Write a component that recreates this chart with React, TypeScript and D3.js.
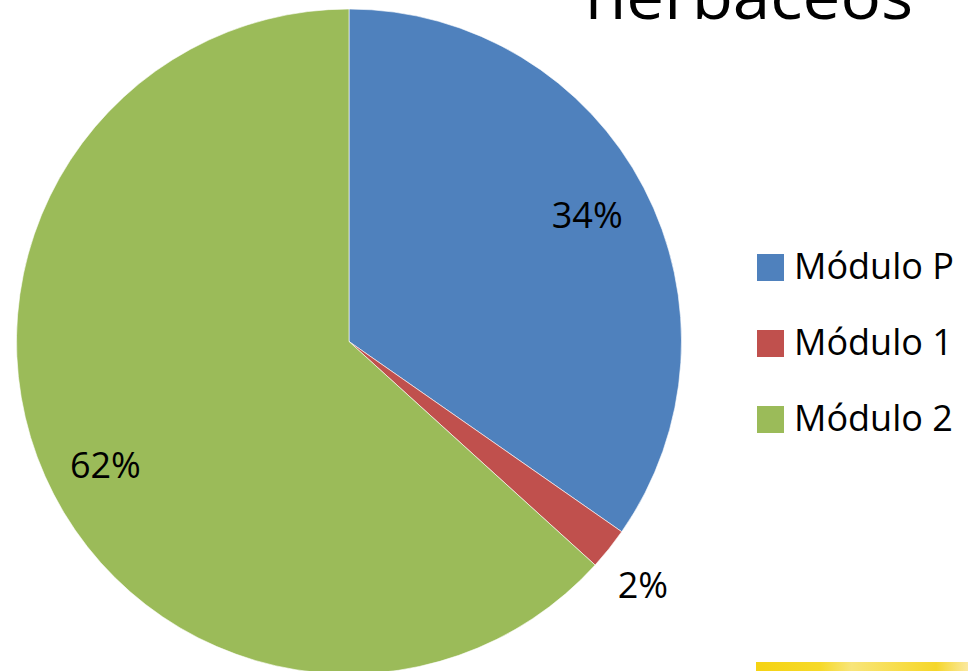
import React from "react";
import * as d3 from "d3";

const categories = ["Módulo P", "Módulo 1", "Módulo 2"];
const values = [34, 2, 62];
const labels = ["34%", "2%", "62%"];
const colors = ["#4F81BD", "#C0504D", "#9BBB59"];
const labelRadiusFactor = [0.812, 1.146, 0.821];
const labelAngleShift = [-0.009, 0.017, -0.051];
const titleText = "herbáceos";

const W = 968;
const H = 671;
const FONT = "'Open Sans', 'Noto Sans', sans-serif";

export default function App() {
  const cx = 349;
  const cy = 341.5;
  const r = 332.5;
  const pie = d3.pie<number>().sort(null).value((d) => d);
  const arcs = pie(values);
  const arc = d3.arc<d3.PieArcDatum<number>>().innerRadius(0).outerRadius(r);

  return (
    <svg
      width={W}
      height={H}
      style={{ position: "absolute", left: 0, top: 0, background: "#fff" }}
    >
      <defs>
        <linearGradient id="yel" x1="0" x2="1" y1="0" y2="0">
          <stop offset="0" stopColor="#F5D313" />
          <stop offset="0.3" stopColor="#F6D928" />
          <stop offset="0.45" stopColor="#F8E57A" />
          <stop offset="0.75" stopColor="#F7DA3A" />
          <stop offset="0.85" stopColor="#F5D62A" />
          <stop offset="1" stopColor="#FBE9A0" />
        </linearGradient>
      </defs>
      <text
        x={585}
        y={19}
        fontFamily={FONT}
        fontSize={64}
        fill="#000"
        textLength={328}
        lengthAdjust="spacingAndGlyphs"
      >
        {titleText}
      </text>
      <g transform={`translate(${cx},${cy})`}>
        {arcs.map((a, i) => (
          <path
            key={categories[i]}
            d={arc(a) || ""}
            fill={colors[i]}
            stroke="#fff"
            strokeWidth={0.6}
          />
        ))}
        {arcs.map((a, i) => {
          const lr = r * labelRadiusFactor[i];
          const ang = (a.startAngle + a.endAngle) / 2 + labelAngleShift[i];
          const lx = lr * Math.sin(ang);
          const ly = -lr * Math.cos(ang);
          return (
            <text
              key={"l" + i}
              x={lx}
              y={ly}
              textAnchor="middle"
              dominantBaseline="central"
              fontFamily={FONT}
              fontSize={36}
              fill="#000"
            >
              {labels[i]}
            </text>
          );
        })}
      </g>
      <g transform="translate(757,254)">
        {categories.map((c, i) => (
          <g key={c} transform={`translate(0,${i * 76})`}>
            <rect width={27} height={27} fill={colors[i]} />
            <text x={37} y={25} fontFamily={FONT} fontSize={36} fill="#000">
              {c}
            </text>
          </g>
        ))}
      </g>
      <rect x={756} y={662} width={212} height={9} fill="url(#yel)" />
    </svg>
  );
}
